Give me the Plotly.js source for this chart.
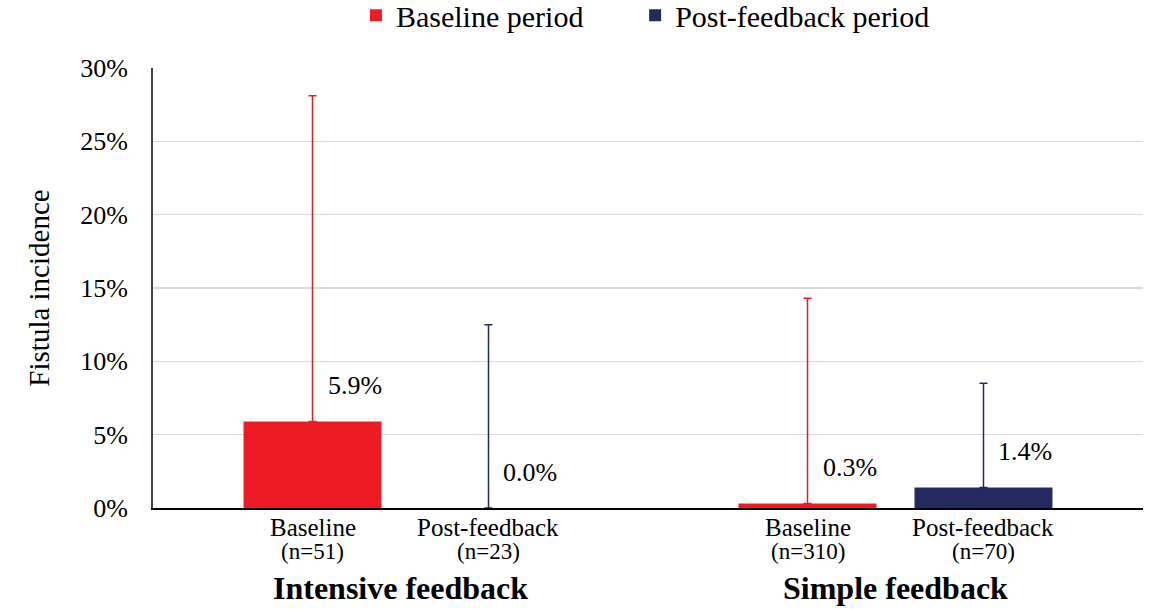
<!DOCTYPE html>
<html>
<head>
<meta charset="utf-8">
<script src="https://cdn.plot.ly/plotly-3.0.1.min.js"></script>
<style>html,body{margin:0;padding:0;background:#fff;}#chart{width:1151px;height:609px;}</style>
</head>
<body>
<div id="chart"></div>
<script>
// ---- data ----
const groups = ["Intensive feedback", "Simple feedback"];
const seriesNames = ["Baseline period", "Post-feedback period"];
const subLabels = [["Baseline", "Post-feedback"], ["Baseline", "Post-feedback"]];
const baselineN = [51, 310];
const postN = [23, 70];
const baselineValues = [5.9, 0.3];
const postValues = [0.0, 1.4];
const baselineUpper = [28.1, 14.3];
const postUpper = [12.5, 8.5];

// ---- style ----
const RED = "#ED1C24";
const NAVY = "#222A5E";
const FONT = "'Liberation Serif', 'Times New Roman', Times, serif";
const W = 1151, H = 609;
const M = {l: 153, r: 8, t: 68, b: 101, autoexpand: false};
const BARGAP = 0.289, BARGROUPGAP = 0.216;

const plotW = W - M.l - M.r;
const unitPx = plotW / groups.length;
const slotOffsetPx = unitPx * (1 - BARGAP) / 4;

function errTrace(name, values, upper, color, legendId) {
  return {
    type: "bar", name: name, x: groups, y: values, legend: legendId,
    marker: {color: color},
    error_y: {type: "data", symmetric: false,
      array: upper.map((u, i) => +(u - values[i]).toFixed(3)),
      arrayminus: values.map(() => 0),
      color: color, thickness: 1.5, width: 4},
    hoverinfo: "skip"
  };
}

const traces = [
  errTrace(seriesNames[0], baselineValues, baselineUpper, RED, "legend"),
  errTrace(seriesNames[1], postValues, postUpper, NAVY, "legend2")
];

const annotations = [];
const allValues = [baselineValues, postValues];
const allN = [baselineN, postN];
groups.forEach((g, gi) => {
  [0, 1].forEach(si => {
    const shift = (si === 0 ? -1 : 1) * slotOffsetPx;
    annotations.push({
      x: g, y: allValues[si][gi], xref: "x", yref: "y",
      text: allValues[si][gi].toFixed(1) + "%",
      showarrow: false, xshift: shift + 42, yshift: 36,
      font: {family: FONT, size: 26, color: "#000"}
    });
    annotations.push({
      x: g, y: 0, xref: "x", yref: "paper", yanchor: "middle",
      text: subLabels[gi][si],
      showarrow: false, xshift: shift, yshift: -19,
      font: {family: FONT, size: 25, color: "#000"}
    });
    annotations.push({
      x: g, y: 0, xref: "x", yref: "paper", yanchor: "middle",
      text: "(n=" + allN[si][gi] + ")",
      showarrow: false, xshift: shift, yshift: -43,
      font: {family: FONT, size: 23, color: "#000"}
    });
  });
  annotations.push({
    x: g, y: 0, xref: "x", yref: "paper", yanchor: "middle",
    text: "<b>" + g + "</b>", showarrow: false, yshift: -80, borderpad: 0,
    font: {family: FONT, size: 32, color: "#000"}
  });
});

const legendBase = {orientation: "h", y: 1.12, yanchor: "middle", xanchor: "left",
  font: {family: FONT, size: 30, color: "#000"}, itemclick: false, bgcolor: "rgba(0,0,0,0)"};

const layout = {
  width: W, height: H,
  margin: M,
  paper_bgcolor: "#fff", plot_bgcolor: "#fff",
  barmode: "group", bargap: BARGAP, bargroupgap: BARGROUPGAP,
  font: {family: FONT, color: "#000"},
  showlegend: true,
  legend: Object.assign({}, legendBase, {x: 0.205}),
  legend2: Object.assign({}, legendBase, {x: 0.487}),
  xaxis: {type: "category", showticklabels: false, ticks: "", showgrid: false,
    showline: true, linecolor: "#000", linewidth: 1.5, zeroline: false, fixedrange: true},
  yaxis: {range: [0, 30], dtick: 5, ticksuffix: "%", showgrid: true, gridcolor: "#d9d9d9",
    gridwidth: 1.5, showline: true, linecolor: "#404040", linewidth: 2, zeroline: false,
    tickfont: {family: FONT, size: 26, color: "#000"}, ticklabelstandoff: 18,
    title: {text: "Fistula incidence", font: {family: FONT, size: 29, color: "#000"}, standoff: 22},
    fixedrange: true},
  annotations: annotations
};

Plotly.newPlot("chart", traces, layout, {displayModeBar: false, staticPlot: true});
</script>
</body>
</html>
